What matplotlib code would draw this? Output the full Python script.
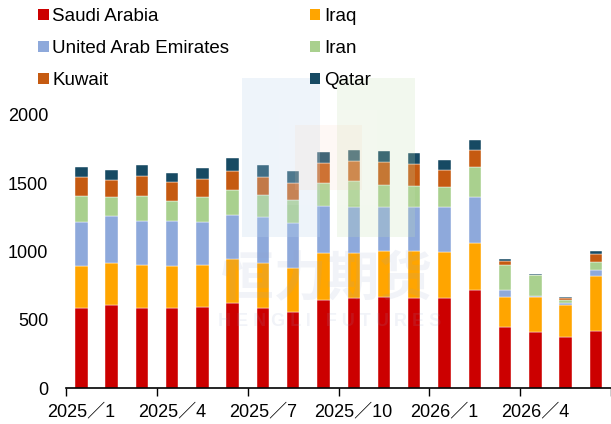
import numpy as np
import matplotlib
matplotlib.use('Agg')
import matplotlib.pyplot as plt
from matplotlib.patches import Rectangle, Patch

# Monthly volumes by country
months = ['2025/1', '2025/2', '2025/3', '2025/4', '2025/5', '2025/6',
          '2025/7', '2025/8', '2025/9', '2025/10', '2025/11', '2025/12',
          '2026/1', '2026/2', '2026/3', '2026/4', '2026/5', '2026/6']
saudi = [590, 612, 590, 590, 592, 622, 590, 561, 649, 659, 668, 663, 663, 722, 451, 414, 376, 419]
iraq = [307, 305, 310, 303, 308, 322, 325, 317, 339, 329, 335, 340, 332, 344, 215, 252, 236, 405]
uae = [323, 347, 327, 331, 320, 327, 339, 334, 344, 342, 327, 322, 335, 337, 51, 10, 12, 44]
iran = [188, 136, 181, 149, 180, 178, 163, 168, 173, 187, 160, 154, 141, 219, 188, 153, 25, 59]
kuwait = [137, 125, 148, 135, 134, 144, 130, 125, 142, 147, 169, 163, 125, 122, 27, 3, 12, 56]
qatar = [73, 75, 78, 68, 81, 93, 87, 88, 83, 78, 78, 80, 77, 71, 17, 8, 10, 24]

names = ['Saudi Arabia', 'Iraq', 'United Arab Emirates', 'Iran', 'Kuwait', 'Qatar']
colors = ['#CC0000', '#FFA500', '#8EA9DB', '#A9D08E', '#C55A11', '#174A63']
series = [saudi, iraq, uae, iran, kuwait, qatar]

tick_font = ['Liberation Sans', 'Noto Sans CJK SC']

fig = plt.figure(figsize=(6.11, 4.24), dpi=100)
ax = fig.add_axes([0.1083, 0.0842, 0.8917, 0.6446])

x = np.arange(len(months))
bottom = np.zeros(len(months))
handles = []
for vals, name, col in zip(series, names, colors):
    vals = np.array(vals, dtype=float)
    ax.bar(x, vals, width=0.41, bottom=bottom, color=col, label=name,
           edgecolor='white', linewidth=0.3)
    bottom += vals
    handles.append(Patch(facecolor=col, label=name))

ax.set_xlim(-0.5, len(months) - 0.5)
ax.set_ylim(0, 2000)
ax.set_yticks([0, 500, 1000, 1500, 2000])

# labels on the months, tick marks on the boundaries
major = x[::3]
ax.set_xticks(major)
ax.set_xticklabels([months[i].replace('/', '\uff0f') for i in major])
ax.set_xticks(np.arange(-0.5, len(months), 3), minor=True)
ax.tick_params(axis='x', which='major', length=0, pad=11)
ax.tick_params(axis='x', which='minor', length=6, width=1, color='black')
ax.tick_params(axis='y', length=0, pad=13)
for lab in ax.get_xticklabels() + ax.get_yticklabels():
    lab.set_family(tick_font)
    lab.set_fontsize(13)

for s in ['top', 'right', 'left']:
    ax.spines[s].set_visible(False)
ax.spines['bottom'].set_linewidth(1.2)

# legend: two columns, filled row by row
order = [0, 2, 4, 1, 3, 5]
fig.legend([handles[i] for i in order], [names[i] for i in order],
           ncol=2, loc='upper left', bbox_to_anchor=(0.035, 1.02),
           frameon=False, handlelength=0.55, handleheight=0.55,
           handletextpad=0.2, columnspacing=4.3, labelspacing=0.8,
           prop={'family': 'Liberation Sans', 'size': 13.5})

# faint company watermark
W, H = 611.0, 424.0
def box(x0, y0, x1, y1, fc, a):
    fig.add_artist(Rectangle((x0 / W, 1 - y1 / H), (x1 - x0) / W, (y1 - y0) / H,
                             transform=fig.transFigure, facecolor=fc,
                             edgecolor='none', alpha=a, zorder=5))

box(242, 78, 320, 237, '#BDD7EE', 0.25)
box(337, 78, 415, 237, '#C5E0B4', 0.22)
box(279, 110, 377, 205, 'white', 0.08)
box(295, 125, 362, 190, '#F8CBAD', 0.12)
fig.text(327 / W, 1 - 280 / H, '恒力期货', family='Noto Sans CJK SC', weight='bold',
         fontsize=38, color='#8EA0C8', alpha=0.12, ha='center', va='center', zorder=6)
fig.text(330 / W, 1 - 322 / H, 'H E N G L I   F U T U R E S', family='Liberation Sans',
         weight='bold', fontsize=13, color='#8EA0C8', alpha=0.12,
         ha='center', va='center', zorder=6)

fig.savefig('out.png', dpi=100)
